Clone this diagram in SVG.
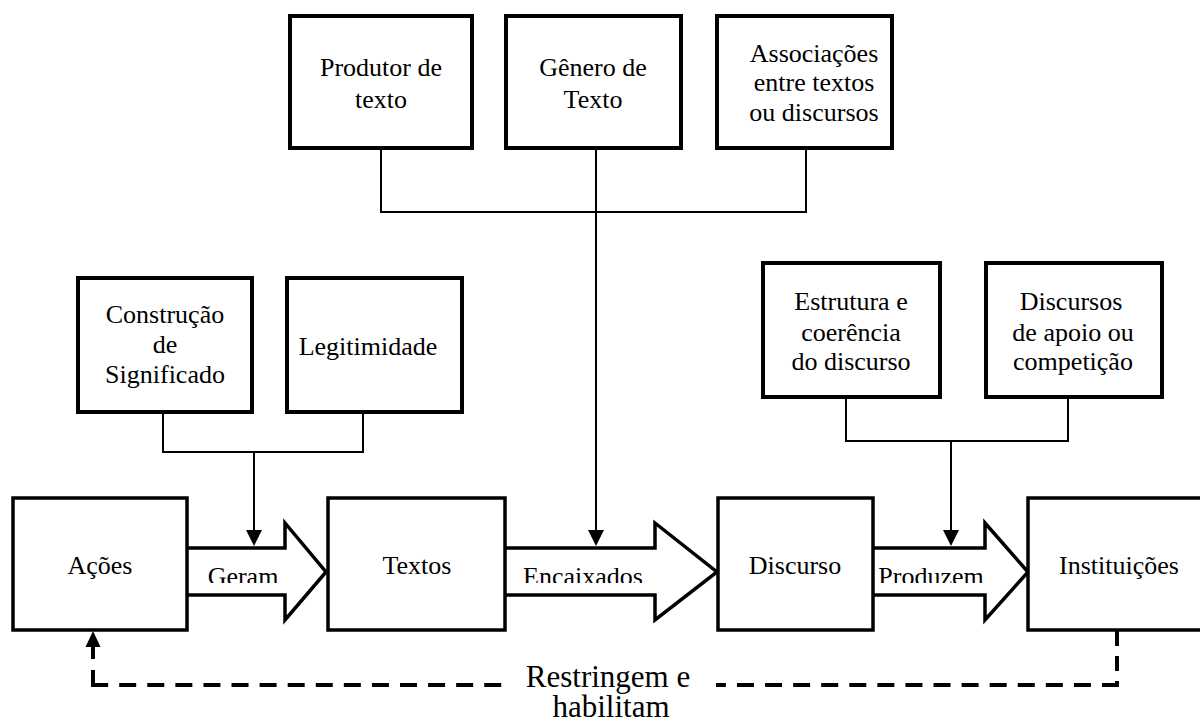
<svg xmlns="http://www.w3.org/2000/svg" width="1200" height="722" viewBox="0 0 1200 722">
  <style>
    .box { fill: #fff; stroke: #000; stroke-width: 3.5; }
    .box-thick { fill: #fff; stroke: #000; stroke-width: 4; }
    .label { font-family: "Liberation Serif", "Times New Roman", serif; font-size: 26px; fill: #000; text-anchor: middle; }
    .big { font-family: "Liberation Serif", "Times New Roman", serif; font-size: 31px; fill: #000; text-anchor: middle; }
    .link { fill: none; stroke: #000; stroke-width: 2; }
    .flow { fill: #fff; stroke: #000; stroke-width: 3.5; stroke-linejoin: miter; }
    .feedback { fill: none; stroke: #000; stroke-width: 4; }
  </style>
  <defs>
    <clipPath id="flowText" clipPathUnits="userSpaceOnUse">
      <rect x="0" y="540" width="1200" height="43"/>
    </clipPath>
  </defs>
  <rect width="1200" height="722" fill="#fff"/>

  <!-- connectors -->
  <g id="connectors">
    <!-- top group feeding into "Encaixados" -->
    <polyline class="link" points="381,148 381,212 806,212 806,148"/>
    <line class="link" x1="596" y1="148" x2="596" y2="530"/>
    <path d="M588,530 L604,530 L596,546 Z" fill="#000"/>
    <!-- left group feeding into "Geram" -->
    <polyline class="link" points="163,412 163,452 363,452 363,412"/>
    <line class="link" x1="254" y1="452" x2="254" y2="530"/>
    <path d="M246,530 L262,530 L254,546 Z" fill="#000"/>
    <!-- right group feeding into "Produzem" -->
    <polyline class="link" points="846,397 846,441 1068,441 1068,397"/>
    <line class="link" x1="951" y1="441" x2="951" y2="530"/>
    <path d="M943,530 L959,530 L951,546 Z" fill="#000"/>

    <!-- block arrows between the main stages -->
    <path class="flow" d="M185,548 H285 V523 L326,572 L285,620 V595 H185"/>
    <path class="flow" d="M505,548 H655 V523 L717,572 L655,620 V595 H505"/>
    <path class="flow" d="M873,548 H985 V523 L1028,572 L985,620 V595 H873"/>
    <g clip-path="url(#flowText)">
      <text class="label" x="243" y="585">Geram</text>
      <text class="label" x="583" y="585">Encaixados</text>
      <text class="label" x="931" y="585">Produzem</text>
    </g>

    <!-- dashed feedback loop -->
    <path class="feedback" d="M1117,631 V687" stroke-dasharray="15 10"/>
    <path class="feedback" d="M1119,685 H91" stroke-dasharray="17 11.08"/>
    <path class="feedback" d="M93,687 V646" stroke-dasharray="17 11"/>
    <path d="M93,631 L85.5,647 L100.5,647 Z" fill="#000"/>
    <rect x="504" y="660" width="212" height="62" fill="#fff"/>
    <text class="big" x="608" y="687">Restringem e</text>
    <text class="big" x="611" y="717">habilitam</text>
  </g>

  <!-- top row -->
  <g id="produtor">
    <rect class="box-thick" x="290" y="16" width="182" height="132"/>
    <text class="label" x="381" y="76">Produtor de</text>
    <text class="label" x="381" y="108">texto</text>
  </g>
  <g id="genero">
    <rect class="box-thick" x="506" y="16" width="175" height="132"/>
    <text class="label" x="593" y="76">Gênero de</text>
    <text class="label" x="593" y="108">Texto</text>
  </g>
  <g id="associacoes">
    <rect class="box-thick" x="717" y="16" width="175" height="132"/>
    <text class="label" x="814" y="62">Associações</text>
    <text class="label" x="814" y="91">entre textos</text>
    <text class="label" x="814" y="121">ou discursos</text>
  </g>

  <!-- middle row -->
  <g id="construcao">
    <rect class="box-thick" x="78" y="278" width="174" height="134"/>
    <text class="label" x="165" y="323">Construção</text>
    <text class="label" x="165" y="353">de</text>
    <text class="label" x="165" y="383">Significado</text>
  </g>
  <g id="legitimidade">
    <rect class="box-thick" x="287" y="278" width="175" height="134"/>
    <text class="label" x="368" y="355">Legitimidade</text>
  </g>
  <g id="estrutura">
    <rect class="box-thick" x="763" y="263" width="177" height="134"/>
    <text class="label" x="851" y="310">Estrutura e</text>
    <text class="label" x="851" y="341">coerência</text>
    <text class="label" x="851" y="370">do discurso</text>
  </g>
  <g id="discursos-apoio">
    <rect class="box-thick" x="986" y="263" width="176" height="134"/>
    <text class="label" x="1071" y="310">Discursos</text>
    <text class="label" x="1073" y="341">de apoio ou</text>
    <text class="label" x="1073" y="370">competição</text>
  </g>

  <!-- bottom row -->
  <g id="acoes">
    <rect class="box" x="13" y="498" width="174" height="132"/>
    <text class="label" x="100" y="574">Ações</text>
  </g>
  <g id="textos">
    <rect class="box" x="328" y="498" width="177" height="132"/>
    <text class="label" x="417" y="574">Textos</text>
  </g>
  <g id="discurso">
    <rect class="box" x="718" y="498" width="155" height="132"/>
    <text class="label" x="795" y="574">Discurso</text>
  </g>
  <g id="instituicoes">
    <rect class="box" x="1028" y="498" width="180" height="132"/>
    <text class="label" x="1119" y="574">Instituições</text>
  </g>
</svg>
